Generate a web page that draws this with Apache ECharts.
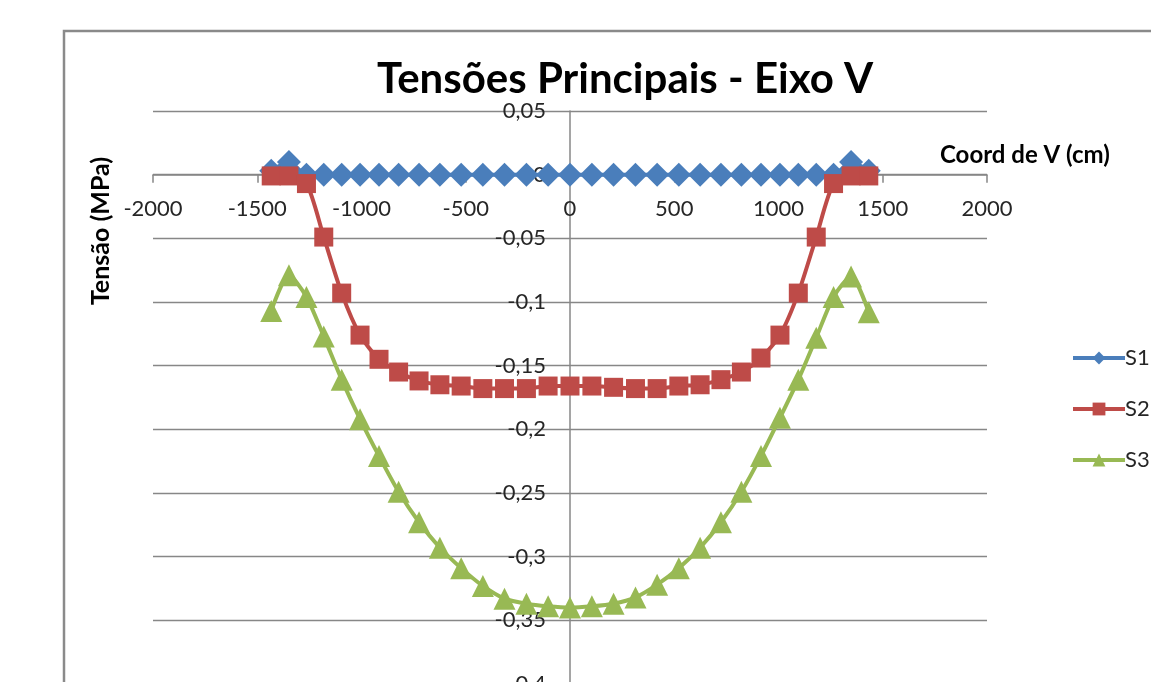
<!DOCTYPE html>
<html>
<head>
<meta charset="utf-8">
<script src="https://cdn.jsdelivr.net/npm/echarts@6/dist/echarts.min.js"></script>
<style>
  html, body { margin: 0; padding: 0; background: #ffffff; }
  #chart { width: 1151px; height: 682px; }
</style>
</head>
<body>
<div id="chart"></div>
<script>
// Coordinates along axis V (cm)
const coordV = [-1433, -1348, -1264, -1181, -1095, -1007, -916, -822, -724, -624, -522, -418, -314, -209, -105,
  0, 105, 209, 314, 418, 522, 624, 724, 822, 916, 1007, 1095, 1181, 1264, 1348, 1433];

// Principal stresses (MPa)
const s1 = [0.003, 0.010, 0, 0, 0, 0, 0, 0, 0, 0, 0, 0, 0, 0, 0,
  0, 0, 0, 0, 0, 0, 0, 0, 0, 0, 0, 0, 0, 0, 0.010, 0.003];
const s2 = [-0.001, -0.001, -0.007, -0.049, -0.093, -0.126, -0.145, -0.155, -0.162, -0.165, -0.166, -0.168, -0.168, -0.168, -0.166,
  -0.166, -0.166, -0.167, -0.168, -0.168, -0.166, -0.165, -0.161, -0.155, -0.144, -0.126, -0.093, -0.049, -0.007, -0.001, -0.001];
const s3 = [-0.107, -0.079, -0.096, -0.127, -0.161, -0.192, -0.221, -0.249, -0.273, -0.293, -0.309, -0.323, -0.333, -0.337, -0.339,
  -0.340, -0.339, -0.337, -0.332, -0.322, -0.309, -0.293, -0.273, -0.249, -0.221, -0.191, -0.161, -0.128, -0.096, -0.080, -0.108];

const seriesNames = ['S1', 'S2', 'S3'];

// Axis ranges and steps
const xMin = -2000, xMax = 2000, xStep = 500;
const yMin = -0.4, yMax = 0.05, yStep = 0.05;

const FONT = 'Lato, "Open Sans", sans-serif';
const GRID_GRAY = '#878787';

// Plot area in pixels
const PLOT = { left: 153, right: 987, top: 111, bottom: 684 };
const W = 1151, H = 682;

// The axes cross at the origin: shift each axis from the plot edge onto zero
const zeroY = PLOT.top + (PLOT.bottom - PLOT.top) * (yMax - 0) / (yMax - yMin);
const zeroX = PLOT.left + (PLOT.right - PLOT.left) * (0 - xMin) / (xMax - xMin);

function pairs(ys) {
  return coordV.map((x, i) => [x, ys[i]]);
}

function decimalComma(v) {
  const r = Math.round(v * 1000) / 1000;
  return String(r).replace('.', ',');
}

const chart = echarts.init(document.getElementById('chart'), null, { renderer: 'canvas' });

const lineSeries = (name, ys, color, symbol, size) => ({
  name: name,
  type: 'line',
  data: pairs(ys),
  smooth: 0.25,
  symbol: symbol,
  symbolSize: size,
  showAllSymbol: true,
  lineStyle: { color: color, width: 4 },
  itemStyle: { color: color },
  emphasis: { disabled: true },
  animation: false
});

chart.setOption({
  backgroundColor: '#ffffff',
  animation: false,
  title: {
    text: 'Tensões Principais - Eixo V',
    left: 372,
    top: 53,
    textStyle: { fontFamily: FONT, fontWeight: 'bold', fontSize: 42, color: '#000000' }
  },
  legend: {
    orient: 'vertical',
    left: 1066,
    top: 342,
    itemWidth: 52,
    itemHeight: 16,
    itemGap: 29,
    data: seriesNames,
    lineStyle: { width: 4 },
    textStyle: { fontFamily: FONT, fontSize: 22, color: '#262626', lineHeight: 20, padding: [0, 0, 0, -5] }
  },
  grid: {
    left: PLOT.left, right: W - PLOT.right, top: PLOT.top, bottom: H - PLOT.bottom,
    outerBoundsMode: 'none', containLabel: false
  },
  xAxis: {
    type: 'value',
    position: 'bottom',
    offset: -(PLOT.bottom - zeroY),
    min: xMin, max: xMax, interval: xStep,
    axisLine: { onZero: false, lineStyle: { color: GRID_GRAY, width: 1.5 } },
    axisTick: { show: true, length: 8, lineStyle: { color: GRID_GRAY, width: 1.5 } },
    axisLabel: { margin: 23, fontFamily: FONT, fontSize: 22, color: '#262626', formatter: v => String(v) },
    splitLine: { show: false }
  },
  yAxis: {
    type: 'value',
    position: 'left',
    offset: -(zeroX - PLOT.left),
    min: yMin, max: yMax, interval: yStep,
    axisLine: { onZero: false, lineStyle: { color: GRID_GRAY, width: 1.5 } },
    axisTick: { show: false },
    axisLabel: { margin: 24, fontFamily: FONT, fontSize: 22, color: '#262626', formatter: decimalComma },
    splitLine: { show: true, lineStyle: { color: GRID_GRAY, width: 1.3 } }
  },
  graphic: [
    {
      type: 'rect',
      silent: true,
      shape: { x: 64, y: 31, width: 1200, height: 800 },
      style: { fill: 'none', stroke: '#8a8a8a', lineWidth: 2.5 }
    },
    {
      type: 'text',
      silent: true,
      x: 101, y: 231,
      rotation: Math.PI / 2,
      style: {
        text: 'Tensão (MPa)', font: 'bold 25px ' + FONT, fill: '#000000',
        align: 'center', verticalAlign: 'middle'
      }
    },
    {
      type: 'text',
      silent: true,
      x: 940, y: 155,
      style: {
        text: 'Coord de V (cm)', font: 'bold 24px ' + FONT, fill: '#000000',
        align: 'left', verticalAlign: 'middle'
      }
    }
  ],
  series: [
    lineSeries('S1', s1, '#4a7ebb', 'diamond', 24),
    lineSeries('S2', s2, '#be4b48', 'rect', 19),
    lineSeries('S3', s3, '#98b954', 'triangle', 22)
  ]
});
</script>
</body>
</html>
